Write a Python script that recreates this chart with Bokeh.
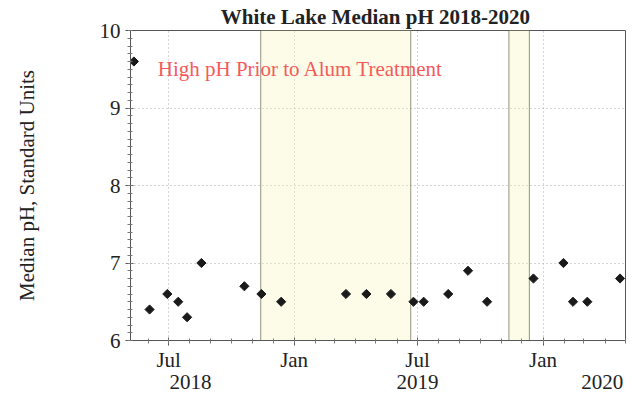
import numpy as np
import pandas as pd
from bokeh.plotting import figure
from bokeh.models import (FixedTicker, BoxAnnotation, Label, Range1d, ColumnDataSource,
                          DatetimeAxis)
from bokeh.embed import file_html
from bokeh.resources import INLINE

# ---- data ----
sample_dates = ["2018-05-11", "2018-06-03", "2018-06-29", "2018-07-15", "2018-07-28",
                "2018-08-18", "2018-10-20", "2018-11-14", "2018-12-13", "2019-03-18",
                "2019-04-17", "2019-05-23", "2019-06-25", "2019-07-10", "2019-08-15",
                "2019-09-13", "2019-10-11", "2019-12-18", "2020-01-31", "2020-02-14",
                "2020-03-06", "2020-04-23"]
median_ph = [9.6, 6.4, 6.6, 6.5, 6.3,
             7.0, 6.7, 6.6, 6.5, 6.6,
             6.6, 6.6, 6.5, 6.5, 6.6,
             6.9, 6.5, 6.8, 7.0, 6.5,
             6.5, 6.8]
x_tick_dates = ["2018-07-01", "2019-01-01", "2019-07-01", "2020-01-01"]
x_tick_labels = ["Jul", "Jan", "Jul", "Jan"]
year_labels = ["2018", "2019", "2020"]
year_label_dates = ["2018-08-02", "2019-07-01", "2020-03-28"]
y_ticks = [6, 7, 8, 9, 10]
treatment_starts = ["2018-11-13", "2019-11-12"]
treatment_ends = ["2019-06-21", "2019-12-12"]
title_text = "White Lake Median pH  2018-2020"
note_text = "High pH Prior to Alum Treatment"
y_label = "Median pH, Standard Units"
x_start, x_end = "2018-05-06", "2020-05-01"


def ms(d):
    return pd.Timestamp(d).value / 1e6


FONT = "Liberation Serif"
DARK = "#222222"
FS = "21px"

src = ColumnDataSource(dict(x=[ms(d) for d in sample_dates], y=median_ph))

p = figure(width=633, height=396, x_axis_type="datetime",
           x_range=Range1d(ms(x_start), ms(x_end)), y_range=Range1d(6, 10),
           output_backend="svg", toolbar_location=None,
           min_border_left=130, min_border_right=8, min_border_top=30, min_border_bottom=56)

p.title.text = title_text
p.title.text_font = FONT
p.title.text_font_size = FS
p.title.text_font_style = "bold"
p.title.text_color = DARK
p.title.align = "center"
p.title.standoff = 3

p.outline_line_color = "#555555"
p.outline_line_width = 1

# shaded treatment periods
for s, e in zip(treatment_starts, treatment_ends):
    p.add_layout(BoxAnnotation(left=ms(s), right=ms(e), fill_color="#f5f5b8", fill_alpha=0.32,
                               line_color="#7a7a60", line_width=1, line_alpha=0.8, level="underlay"))

# x axis
minor = [ms(d) for d in pd.date_range("2018-05-01", "2020-05-01", freq="MS")]
p.xaxis.ticker = FixedTicker(ticks=[ms(d) for d in x_tick_dates], minor_ticks=minor)
p.xaxis.major_label_overrides = {ms(d): l for d, l in zip(x_tick_dates, x_tick_labels)}
# y axis
p.yaxis.ticker = FixedTicker(ticks=y_ticks, minor_ticks=[round(6 + i * 0.1, 1) for i in range(41)])

for ax in (p.xaxis[0], p.yaxis[0]):
    ax.axis_line_color = "#555555"
    ax.major_tick_line_color = "#555555"
    ax.minor_tick_line_color = "#777777"
    ax.major_tick_out = 5
    ax.major_tick_in = 3
    ax.minor_tick_out = 3
    ax.minor_tick_in = 2
    ax.major_label_text_font = FONT
    ax.major_label_text_font_size = FS
    ax.major_label_text_color = DARK
    ax.major_label_standoff = 5
p.xaxis[0].major_label_standoff = 2

# year labels as a second axis below
year_axis = DatetimeAxis(ticker=FixedTicker(ticks=[ms(d) for d in year_label_dates], minor_ticks=[]),
                         major_label_overrides={ms(d): t for d, t in zip(year_label_dates, year_labels)},
                         axis_line_color=None, major_tick_line_color=None, minor_tick_line_color=None,
                         major_tick_out=0, major_tick_in=0, major_label_standoff=0,
                         major_label_text_font=FONT, major_label_text_font_size=FS,
                         major_label_text_color=DARK)
p.add_layout(year_axis, "below")

p.yaxis.axis_label = y_label
p.yaxis.axis_label_text_font = FONT
p.yaxis.axis_label_text_font_size = FS
p.yaxis.axis_label_text_font_style = "normal"
p.yaxis.axis_label_text_color = DARK
p.yaxis.axis_label_standoff = 58

for g in (p.xgrid[0], p.ygrid[0]):
    g.grid_line_color = "#aaaaaa"
    g.grid_line_dash = "1 3"
    g.grid_line_width = 1

p.scatter("x", "y", source=src, marker="square", angle=np.pi / 4, size=6.5,
          color="#1a1a1a")

# note
p.add_layout(Label(x=ms("2018-06-15"), y=9.5, text=note_text, text_align="left",
                   text_baseline="alphabetic", text_font=FONT, text_font_size=FS,
                   text_color="#f55a5a"))

open("out.html", "w").write(file_html(p, INLINE))
